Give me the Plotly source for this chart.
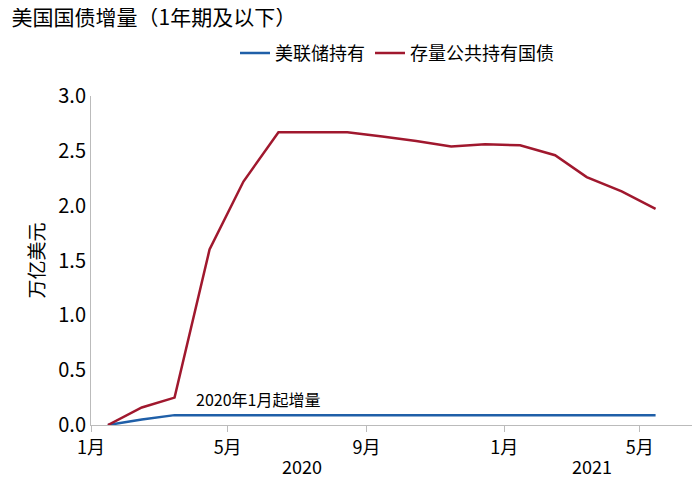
import plotly.graph_objects as go

dates = ["2020-01-16","2020-02-15","2020-03-15","2020-04-15","2020-05-15","2020-06-15","2020-07-15","2020-08-15","2020-09-15","2020-10-15","2020-11-15","2020-12-15","2021-01-15","2021-02-15","2021-03-15","2021-04-15","2021-05-15"]
fed = [0,0.05,0.09,0.09,0.09,0.09,0.09,0.09,0.09,0.09,0.09,0.09,0.09,0.09,0.09,0.09,0.09]
public = [0,0.16,0.25,1.6,2.22,2.67,2.67,2.67,2.63,2.59,2.54,2.56,2.55,2.46,2.26,2.13,1.97]
tickvals = ["2020-01-01","2020-05-01","2020-09-01","2021-01-01","2021-05-01"]
ticktext = ["1月","5月","9月","1月","5月"]
F = "Noto Sans CJK SC"

fig = go.Figure()
fig.add_trace(go.Scatter(x=dates, y=fed, mode="lines", name="美联储持有", line=dict(color="#1f5fa8", width=2.5)))
fig.add_trace(go.Scatter(x=dates, y=public, mode="lines", name="存量公共持有国债", line=dict(color="#a0182e", width=2.5)))
fig.update_layout(
    width=700, height=482, paper_bgcolor="white", plot_bgcolor="white",
    font=dict(family=F, size=16, color="black"),
    margin=dict(l=83, r=5, t=88, b=65),
    title=dict(text="美国国债增量（1年期及以下）", x=0.005, y=0.995, xanchor="left", yanchor="top", font=dict(size=21)),
    legend=dict(orientation="h", x=0.5, xanchor="center", y=1.13, yanchor="middle", font=dict(size=18)),
    showlegend=True,
)
fig.update_xaxes(range=["2020-01-01","2021-06-26"], tickvals=tickvals, ticktext=ticktext,
                 showline=True, linecolor="#bbb", ticks="outside", tickcolor="#bbb", ticklen=6,
                 showgrid=False, tickfont=dict(size=18))
fig.update_yaxes(range=[0,3.0], dtick=0.5, tickformat=".1f", showline=True, linecolor="#bbb",
                 showgrid=False, zeroline=False, ticks="", tickfont=dict(size=20),
                 title=dict(text="万亿美元", font=dict(size=19), standoff=8))
fig.add_annotation(x=0.345, y=-0.17, xref="paper", yref="paper", text="2020", showarrow=False, font=dict(size=18))
fig.add_annotation(x=0.855, y=-0.17, xref="paper", yref="paper", text="2021", showarrow=False, font=dict(size=18))
fig.add_annotation(x="2020-04-01", y=0.11, xref="x", yref="y", text="2020年1月起增量", showarrow=False,
                   xanchor="left", yanchor="bottom", font=dict(size=16))
fig.write_html("out.html")
